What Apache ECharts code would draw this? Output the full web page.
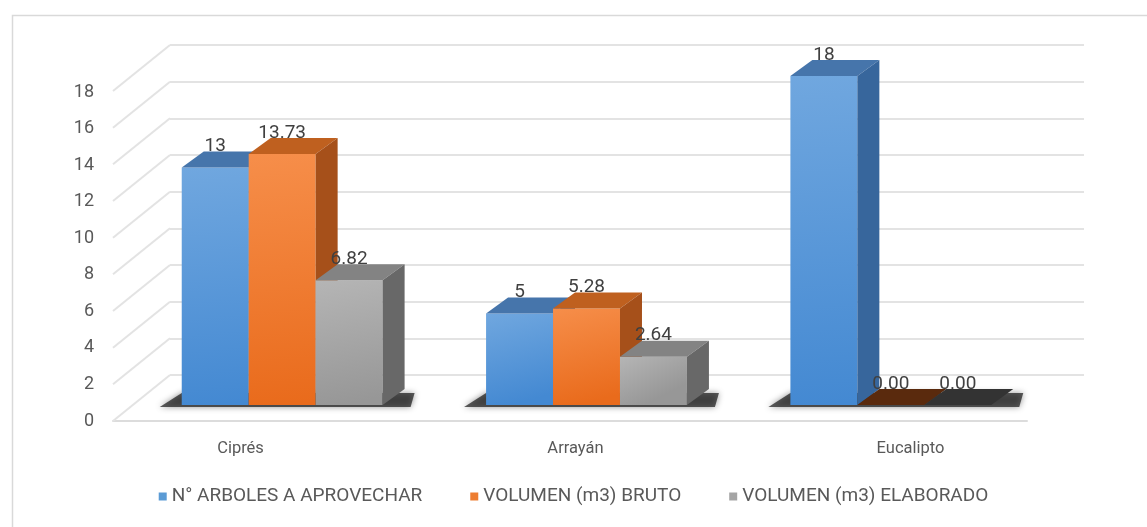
<!DOCTYPE html>
<html>
<head>
<meta charset="utf-8">
<script src="https://cdn.jsdelivr.net/npm/echarts@6/dist/echarts.min.js"></script>
<style>
  html, body { margin: 0; padding: 0; background: #fff; }
  #chart { width: 1147px; height: 527px; }
</style>
</head>
<body>
<div id="chart"></div>
<script>
const categories = ['Ciprés', 'Arrayán', 'Eucalipto'];
const seriesNames = ['N° ARBOLES A APROVECHAR', 'VOLUMEN (m3) BRUTO', 'VOLUMEN (m3) ELABORADO'];
const arboles = [13, 5, 18];
const volumenBruto = [13.73, 5.28, 0];
const volumenElaborado = [6.82, 2.64, 0];
const seriesValues = [arboles, volumenBruto, volumenElaborado];
const labelDigits = [0, 2, 2];
const yTicks = [0, 2, 4, 6, 8, 10, 12, 14, 16, 18];

// face colours per series: front gradient, top, side, flat (zero height) top
const frontColors = [['#70a7df', '#4489d2'], ['#f68e4a', '#e96b1c'], ['#b5b5b5', '#979797']];
const topColors = ['#4675ab', '#bf601f', '#838383'];
const sideColors = ['#37669c', '#a6501a', '#686868'];
const flatColors = ['#2d4f78', '#5a2a0d', '#333333'];
const legendColors = ['#5b9bd5', '#ed7d31', '#a5a5a5'];

const FONT = "'Roboto', sans-serif";
const BAR_DX = 22, BAR_DY = 16;   // bar depth
const WALL_DX = 57, WALL_DY = 46; // back wall offset from the front axis

const chart = echarts.init(document.getElementById('chart'), null, { renderer: 'canvas' });

function barRenderer(si) {
  return function (params, api) {
    const cat = api.value(0);
    const val = api.value(1);
    const band = api.size([1, 0])[0];
    const bw = band * 0.22;
    const base = api.coord([cat, 0]);
    const top = api.coord([cat, val]);
    const x0 = base[0] + (si - 1.5) * bw;
    const x1 = x0 + bw;
    const yb = base[1];
    const yt = top[1];
    const flat = val === 0;
    const text = labelDigits[si] ? val.toFixed(labelDigits[si]) : String(val);
    return {
      type: 'group',
      children: [
        {
          type: 'text',
          style: {
            text: text, x: (x0 + x1) / 2, y: yt - 21,
            align: 'center', verticalAlign: 'middle',
            fill: '#404040', font: '19px ' + FONT
          }
        },
        {
          type: 'rect',
          shape: { x: x0, y: yt, width: bw, height: yb - yt },
          style: {
            fill: new echarts.graphic.LinearGradient(0, 0, 0.35, 1, [
              { offset: 0, color: frontColors[si][0] },
              { offset: 1, color: frontColors[si][1] }
            ])
          }
        },
        {
          type: 'polygon',
          shape: { points: [[x0, yt], [x1, yt], [x1 + BAR_DX, yt - BAR_DY], [x0 + BAR_DX, yt - BAR_DY]] },
          style: { fill: flat ? flatColors[si] : topColors[si] }
        },
        {
          type: 'polygon',
          shape: { points: [[x1, yt], [x1 + BAR_DX, yt - BAR_DY], [x1 + BAR_DX, yb - BAR_DY], [x1, yb]] },
          style: { fill: flat ? flatColors[si] : sideColors[si] }
        }
      ]
    };
  };
}

// soft floor shadow under each group of bars, cast toward the front-left
function shadowRenderer(params, api) {
  const cat = api.value(0);
  const band = api.size([1, 0])[0];
  const bw = band * 0.22;
  const base = api.coord([cat, 0]);
  const gl = base[0] - 1.5 * bw;
  const gr = base[0] + 1.5 * bw;
  const yb = base[1];
  return {
    type: 'polygon',
    shape: { points: [[gl - 22, yb + 2], [gr + BAR_DX + 6, yb + 2], [gr + BAR_DX + 10, yb - BAR_DY + 4], [gl, yb - BAR_DY + 4]] },
    style: { fill: 'rgba(25,25,25,0.7)', shadowBlur: 6, shadowColor: 'rgba(0,0,0,0.6)' }
  };
}

function diagonalRenderer(params, api) {
  const p = api.coord([0, api.value(1)]);
  return {
    type: 'line',
    shape: { x1: p[0] - WALL_DX, y1: p[1] + WALL_DY, x2: p[0], y2: p[1] },
    style: { stroke: '#e3e3e3', lineWidth: 2 }
  };
}

const barSeries = seriesNames.map((name, si) => ({
  name: name,
  type: 'custom',
  xAxisIndex: 2,
  yAxisIndex: 2,
  z: 10 + si,
  itemStyle: { color: legendColors[si] },
  renderItem: barRenderer(si),
  data: seriesValues[si].map((v, i) => [i, v])
}));

chart.setOption({
  backgroundColor: '#fff',
  animation: false,
  graphic: [{
    type: 'rect',
    left: 10, top: 13,
    shape: { width: 1160, height: 540 },
    style: { fill: 'none', stroke: '#d9d9d9', lineWidth: 1.5 },
    silent: true
  }],
  legend: {
    data: seriesNames,
    left: 'center',
    top: 482,
    icon: 'rect',
    itemWidth: 8,
    itemHeight: 8,
    itemGap: 48,
    textStyle: { color: '#595959', fontSize: 19, fontFamily: FONT }
  },
  grid: [
    { left: 113, top: 92, width: 914, height: 329 },  // front (tick labels)
    { left: 170, top: 45, width: 914, height: 330 },  // back wall
    { left: 130, top: 76, width: 913, height: 329 },  // bars
    { left: 73, top: 100, width: 1005, height: 330 }  // category labels
  ],
  xAxis: [
    {
      gridIndex: 0, type: 'category', data: categories,
      axisLine: { lineStyle: { color: '#dcdcdc', width: 2 } },
      axisTick: { show: false }, axisLabel: { show: false }
    },
    { gridIndex: 1, type: 'value', min: 0, max: 1, show: false },
    { gridIndex: 2, type: 'category', data: categories, show: false },
    {
      gridIndex: 3, type: 'category', data: categories,
      axisLine: { show: false }, axisTick: { show: false },
      axisLabel: { color: '#595959', fontSize: 16.5, fontFamily: FONT, margin: 10 }
    }
  ],
  yAxis: [
    {
      gridIndex: 0, type: 'value', min: 0, max: 18, interval: 2,
      axisLine: { show: false }, axisTick: { show: false }, splitLine: { show: false },
      axisLabel: { color: '#595959', fontSize: 18, fontFamily: FONT, margin: 19 }
    },
    {
      gridIndex: 1, type: 'value', min: 0, max: 18, interval: 2,
      axisLine: { show: false }, axisTick: { show: false }, axisLabel: { show: false },
      splitLine: { lineStyle: { color: '#e3e3e3', width: 2 } }
    },
    { gridIndex: 2, type: 'value', min: 0, max: 18, show: false },
    { gridIndex: 3, type: 'value', min: 0, max: 18, show: false }
  ],
  series: [
    {
      type: 'custom', name: 'diagonals', xAxisIndex: 1, yAxisIndex: 1, z: 1,
      silent: true, renderItem: diagonalRenderer,
      data: yTicks.map(v => [0, v])
    },
    {
      type: 'custom', name: 'shadow', xAxisIndex: 2, yAxisIndex: 2, z: 5,
      silent: true, renderItem: shadowRenderer,
      data: categories.map((c, i) => [i, 0])
    },
    ...barSeries
  ]
});
</script>
</body>
</html>
